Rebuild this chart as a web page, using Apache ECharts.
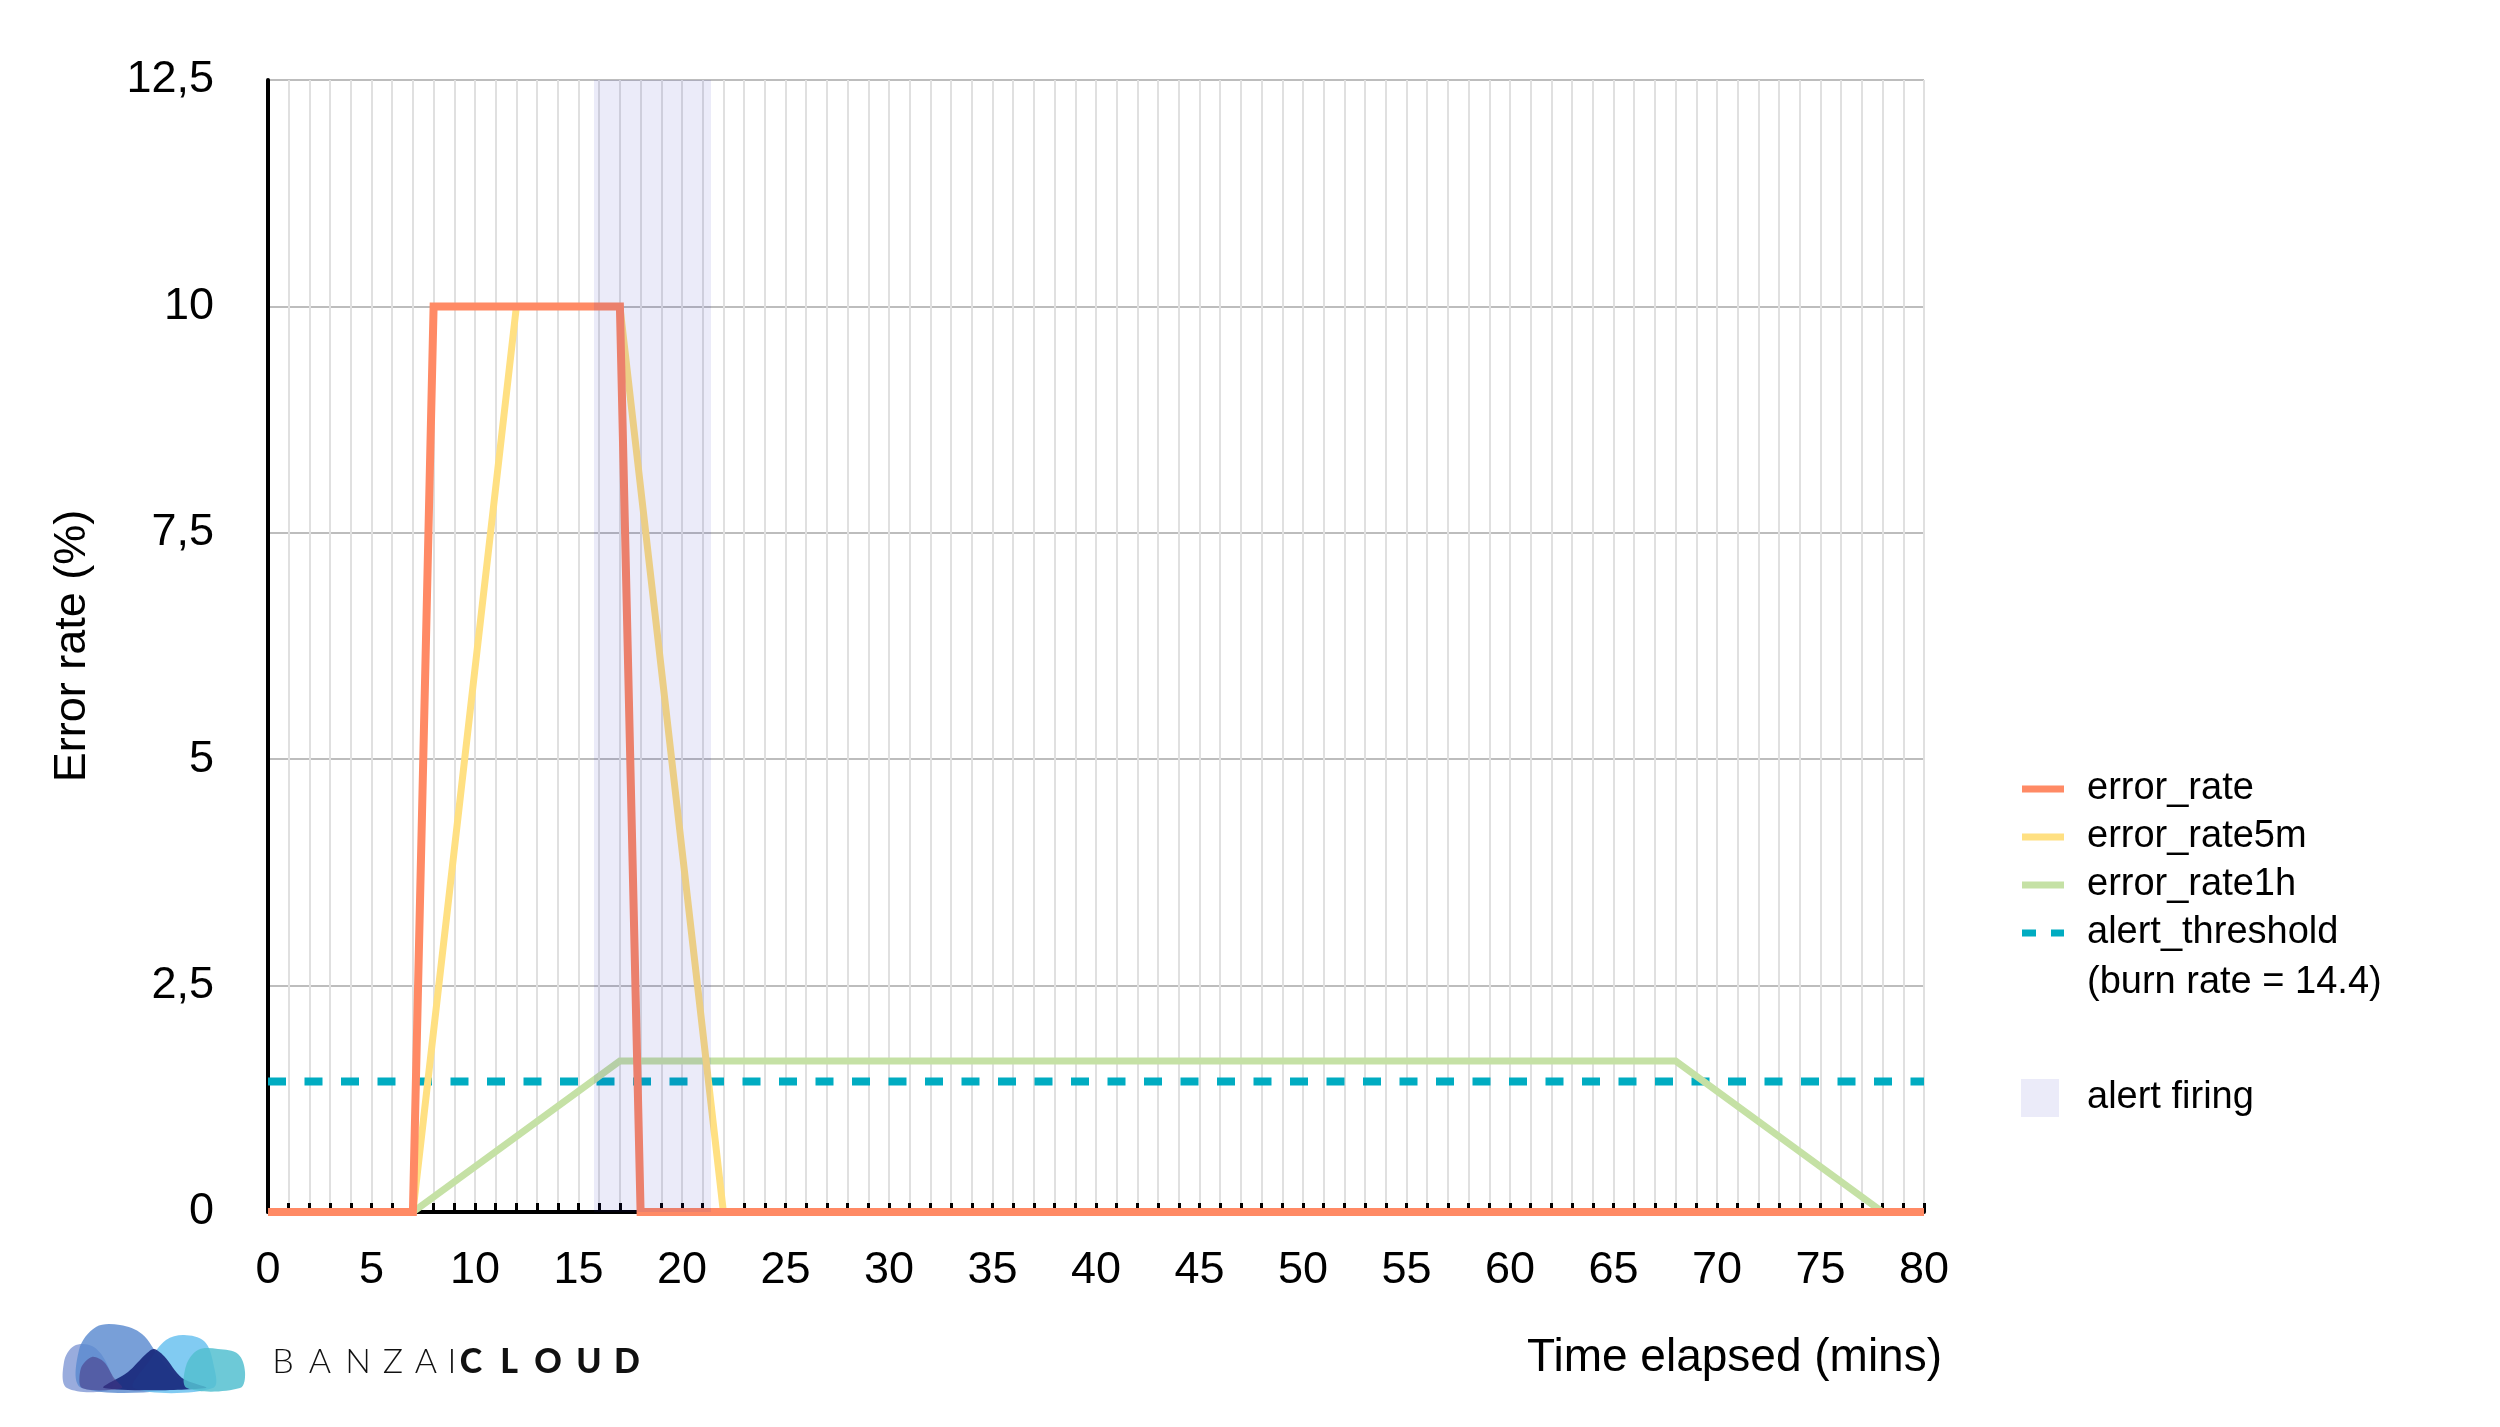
<!DOCTYPE html>
<html>
<head>
<meta charset="utf-8">
<script src="https://cdn.jsdelivr.net/npm/echarts@6/dist/echarts.min.js"></script>
<style>
html,body{margin:0;padding:0;background:#fff;}
#chart{width:2500px;height:1427px;}
</style>
</head>
<body>
<div id="chart"></div>
<script>
// ---- data (minutes elapsed, error rate %) ----
const errorRateX = [0, 7, 8, 17, 18, 80];
const errorRateY = [0, 0, 10, 10, 0, 0];
const rate5mX = [0, 7, 12, 17, 22, 80];
const rate5mY = [0, 0, 10, 10, 0, 0];
const rate1hX = [0, 7, 17, 68, 78, 80];
const rate1hY = [0, 0, 1.667, 1.667, 0, 0];
const thresholdX = [0, 80];
const thresholdY = [1.44, 1.44];
const alertFiring = [15.75, 21.4];
const seriesNames = ['error_rate', 'error_rate5m', 'error_rate1h', 'alert_threshold', 'alert firing'];
const thresholdNote = '(burn rate = 14.4)';
const yAxisTitle = 'Error rate (%)';
const xAxisTitle = 'Time elapsed (mins)';
const logoWord1 = 'BANZAI';
const logoWord2 = 'CLOUD';

const zip = (xs, ys) => xs.map((x, i) => [x, ys[i]]);
const FONT = 'Liberation Sans, Arial, Helvetica, sans-serif';
const bandColor = 'rgba(25,25,190,0.085)';

const chart = echarts.init(document.getElementById('chart'), null, {renderer: 'canvas'});

// logo letters (letter-spaced word mark)
const logoLetters = [];
const l1x = [283, 320, 358, 393, 426, 452];
const l2x = [471, 509, 548, 589, 627];
logoWord1.split('').forEach((ch, i) => logoLetters.push({
  type: 'text', x: l1x[i], y: 1362,
  style: {text: ch, fill: '#111', font: '300 34px Lato, "Liberation Sans", sans-serif', align: 'center', verticalAlign: 'middle'}
}));
logoWord2.split('').forEach((ch, i) => logoLetters.push({
  type: 'text', x: l2x[i], y: 1362,
  style: {text: ch, fill: '#111', font: '900 34px Lato, "Liberation Sans", sans-serif', align: 'center', verticalAlign: 'middle'}
}));

const blob = (pts, fill, smooth) => ({type: 'polygon', shape: {points: pts, smooth: smooth}, style: {fill: fill}});

const option = {
  backgroundColor: '#ffffff',
  animation: false,
  textStyle: {fontFamily: FONT, color: '#000'},
  grid: {left: 268, right: 576, top: 80, bottom: 215, containLabel: false},
  xAxis: {
    type: 'value', min: 0, max: 80, interval: 5,
    axisLine: {show: true, onZero: false, lineStyle: {color: '#000', width: 4}},
    axisTick: {show: true, inside: true, length: 9, lineStyle: {color: '#000', width: 3}},
    minorTick: {show: true, splitNumber: 5, length: 9, lineStyle: {color: '#000', width: 3}},
    splitLine: {show: true, lineStyle: {color: '#E0E0E0', width: 2}},
    minorSplitLine: {show: true, lineStyle: {color: '#E0E0E0', width: 2}},
    axisLabel: {fontSize: 45, color: '#000', margin: 36, fontFamily: FONT}
  },
  yAxis: {
    type: 'value', min: 0, max: 12.5, interval: 2.5,
    axisLine: {show: true, lineStyle: {color: '#000', width: 4}},
    axisTick: {show: false},
    splitLine: {show: true, lineStyle: {color: '#BDBDBD', width: 2}},
    axisLabel: {fontSize: 45, color: '#000', margin: 54, fontFamily: FONT,
      formatter: v => String(v).replace('.', ',')},
    name: yAxisTitle, nameLocation: 'middle', nameGap: 173,
    nameTextStyle: {fontSize: 45, color: '#000', fontFamily: FONT}
  },
  legend: [{
    orient: 'vertical', left: 2022, top: 765, padding: 0,
    itemWidth: 42, itemHeight: 7, itemGap: 0, selectedMode: false,
    textStyle: {fontSize: 38, color: '#000', lineHeight: 48, padding: [0, 0, 0, 18], fontFamily: FONT},
    data: [
      {name: seriesNames[0], icon: 'rect'},
      {name: seriesNames[1], icon: 'rect'},
      {name: seriesNames[2], icon: 'rect'},
      {name: seriesNames[3], icon: 'path://M0,0H14V7H0Z M29,0H42V7H29Z'}
    ]
  }, {
    orient: 'vertical', left: 2021, top: 1074, padding: 0,
    itemWidth: 38, itemHeight: 38, itemGap: 0, selectedMode: false,
    textStyle: {fontSize: 38, color: '#000', lineHeight: 48, padding: [0, 0, 0, 23], fontFamily: FONT},
    data: [{name: seriesNames[4], icon: 'rect'}]
  }],
  series: [
    {
      name: seriesNames[0], type: 'line', data: zip(errorRateX, errorRateY),
      symbol: 'none', clip: false, z: 5,
      lineStyle: {color: '#FF8A65', width: 8, join: 'miter'},
      itemStyle: {color: '#FF8A65'}
    },
    {
      name: seriesNames[1], type: 'line', data: zip(rate5mX, rate5mY),
      symbol: 'none', clip: false, z: 4,
      lineStyle: {color: '#FFE082', width: 7, join: 'miter'},
      itemStyle: {color: '#FFE082'}
    },
    {
      name: seriesNames[2], type: 'line', data: zip(rate1hX, rate1hY),
      symbol: 'none', clip: false, z: 3,
      lineStyle: {color: '#C5E1A5', width: 7, join: 'miter'},
      itemStyle: {color: '#C5E1A5'}
    },
    {
      name: seriesNames[3], type: 'line', data: zip(thresholdX, thresholdY),
      symbol: 'none', clip: false, z: 2,
      lineStyle: {color: '#00ACC1', width: 8, type: [18, 18.5]},
      itemStyle: {color: '#00ACC1'}
    },
    {
      name: seriesNames[4], type: 'line', data: [], symbol: 'none', z: 10,
      itemStyle: {color: bandColor},
      lineStyle: {color: bandColor},
      markArea: {
        silent: true, z: 10,
        itemStyle: {color: bandColor},
        data: [[{xAxis: alertFiring[0]}, {xAxis: alertFiring[1]}]]
      }
    }
  ],
  graphic: [
    {type: 'text', x: 2087, y: 983,
      style: {text: thresholdNote, fill: '#000', font: '38px ' + FONT, verticalAlign: 'middle'}},
    {type: 'text', x: 1942, y: 1358,
      style: {text: xAxisTitle, fill: '#000', font: '46px ' + FONT, align: 'right', verticalAlign: 'middle'}},
    {type: 'group', children: [
      blob([[67, 1388], [64, 1362], [74, 1346], [92, 1346], [106, 1362], [112, 1388]], 'rgba(135,158,215,0.85)', 0.35),
      blob([[82, 1388], [79, 1350], [96, 1327], [120, 1325], [142, 1334], [160, 1358], [180, 1380], [196, 1388]], 'rgba(90,138,208,0.82)', 0.35),
      blob([[134, 1388], [150, 1360], [166, 1340], [184, 1335], [204, 1341], [213, 1362], [213, 1388]], 'rgba(112,196,240,0.88)', 0.35),
      blob([[104, 1388], [128, 1372], [146, 1354], [154, 1349], [164, 1356], [182, 1378], [206, 1388]], 'rgba(22,38,122,0.9)', 0.3),
      blob([[187, 1388], [186, 1366], [198, 1350], [218, 1349], [238, 1354], [245, 1372], [240, 1388]], 'rgba(84,192,208,0.85)', 0.35),
      blob([[82, 1388], [81, 1368], [92, 1357], [104, 1362], [114, 1378], [122, 1388]], 'rgba(70,52,130,0.55)', 0.3)
    ]},
    {type: 'group', children: logoLetters}
  ]
};
chart.setOption(option);
</script>
</body>
</html>
